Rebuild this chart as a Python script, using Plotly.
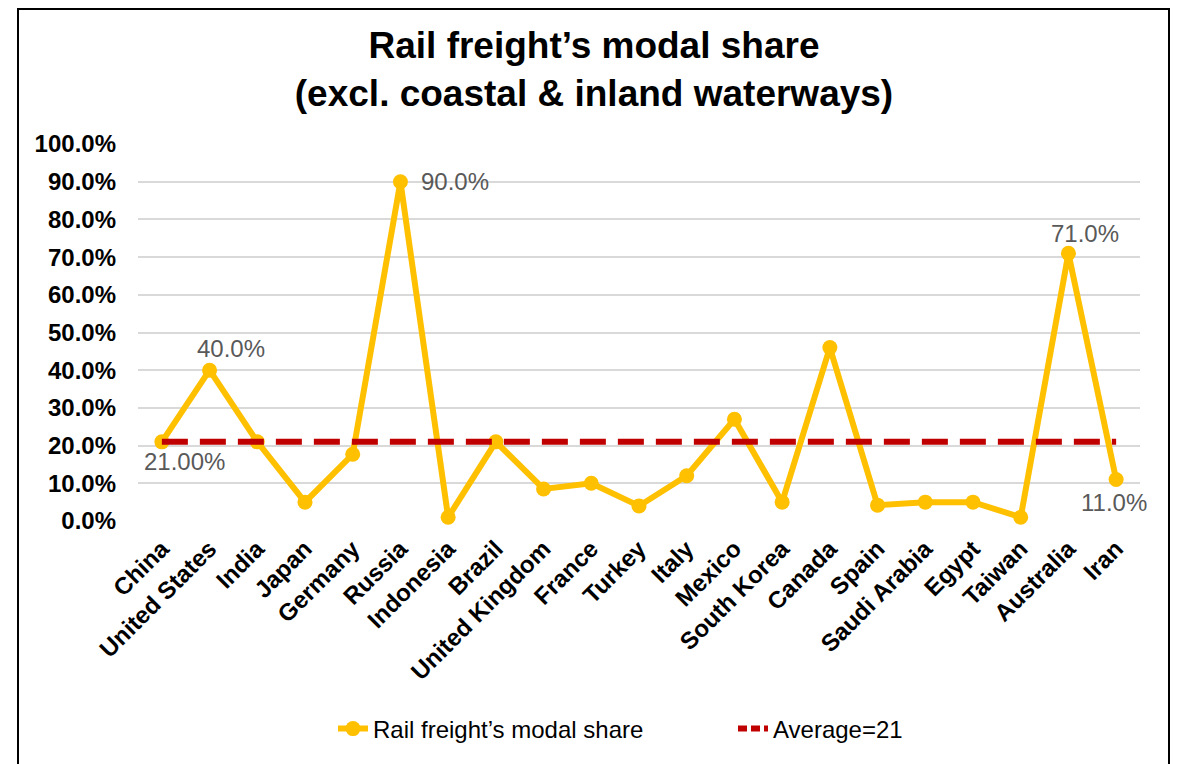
import plotly.graph_objects as go

countries = [
    "China", "United States", "India", "Japan", "Germany", "Russia", "Indonesia",
    "Brazil", "United Kingdom", "France", "Turkey", "Italy", "Mexico", "South Korea",
    "Canada", "Spain", "Saudi Arabia", "Egypt", "Taiwan", "Australia", "Iran",
]
rail_share = [21, 40, 21, 5, 17.7, 90, 1, 21, 8.5, 10, 4, 12, 27, 5, 46, 4.2, 5, 5, 1, 71, 11]
average_share = [21] * len(countries)

label_countries = ["China", "United States", "Russia", "Australia", "Iran"]
label_texts = ["21.00%", "40.0%", "90.0%", "71.0%", "11.0%"]

YELLOW = "#FFC000"
RED = "#C00000"
GRID = "#D9D9D9"
LABEL_GREY = "#595959"
FONT = "Arial, Liberation Sans, sans-serif"

# page is drawn with an 8px body margin, so the layout is offset by that
L, T, PW, PH = 138, 144, 1002, 377  # plot area on the page
OFF = 8

fig = go.Figure()

fig.add_trace(
    go.Scatter(
        x=countries,
        y=rail_share,
        mode="lines+markers",
        name="Rail freight’s modal share",
        line=dict(color=YELLOW, width=6),
        marker=dict(color=YELLOW, size=15),
        cliponaxis=False,
    )
)
fig.add_trace(
    go.Scatter(
        x=countries,
        y=average_share,
        mode="lines",
        name="Average=21",
        line=dict(color=RED, width=6, dash="26px,12px"),
        cliponaxis=False,
        showlegend=False,
    )
)
# legend entry only, shorter dashes so the key looks dashed
fig.add_trace(
    go.Scatter(
        x=[None],
        y=[None],
        mode="lines",
        name="Average=21",
        line=dict(color=RED, width=6, dash="9px,4px"),
    )
)

# label offsets (px) relative to the point, tuned to the reference
offsets = {
    "China": (23, -20),
    "United States": (21, 22),
    "Russia": (55, 0),
    "Australia": (17, 20),
    "Iran": (-2, -23),
}
for name, text in zip(label_countries, label_texts):
    dx, dy = offsets[name]
    fig.add_annotation(
        x=name,
        y=rail_share[countries.index(name)],
        text=text,
        showarrow=False,
        xshift=dx,
        yshift=dy,
        font=dict(family=FONT, size=24, color=LABEL_GREY),
    )

# chart frame
fig.add_shape(
    type="rect",
    xref="paper",
    yref="paper",
    x0=(18 - L) / PW,
    x1=(1169 - L) / PW,
    y0=-0.8,
    y1=(T + PH - 9) / PH,
    line=dict(color="black", width=2),
    layer="below",
)

fig.update_layout(
    width=1180,
    height=764,
    paper_bgcolor="white",
    plot_bgcolor="rgba(0,0,0,0)",
    margin=dict(l=L - OFF, r=1180 + OFF - L - PW, t=T - OFF, b=764 - (T - OFF) - PH),
    font=dict(family=FONT, color="black"),
    title=dict(
        text="Rail freight’s modal share<br>(excl. coastal & inland waterways)",
        x=(594 - OFF) / 1180,
        xanchor="center",
        y=1 - 50 / 764,
        yanchor="middle",
        font=dict(family=FONT, size=37, color="black", weight="bold"),
    ),
    showlegend=True,
    legend=dict(
        orientation="h",
        x=(333 - L) / PW,
        xanchor="left",
        y=(T + PH - 729) / PH,
        yanchor="middle",
        entrywidth=355,
        font=dict(family=FONT, size=24, color="black"),
        bgcolor="rgba(0,0,0,0)",
    ),
)

fig.update_xaxes(
    type="category",
    range=[-0.5, len(countries) - 0.5],
    tickangle=-45,
    tickfont=dict(family=FONT, size=24, color="black", weight="bold"),
    showgrid=False,
    showline=False,
    zeroline=False,
    ticks="",
    ticklabelstandoff=8,
)
fig.update_yaxes(
    range=[0, 100],
    dtick=10,
    tickformat=".1f",
    ticksuffix="%",
    tickfont=dict(family=FONT, size=24, color="black", weight="bold"),
    showgrid=True,
    gridcolor=GRID,
    gridwidth=2,
    zeroline=False,
    showline=False,
    ticks="",
    ticklabelstandoff=21,
)

fig.write_html("out.html")
